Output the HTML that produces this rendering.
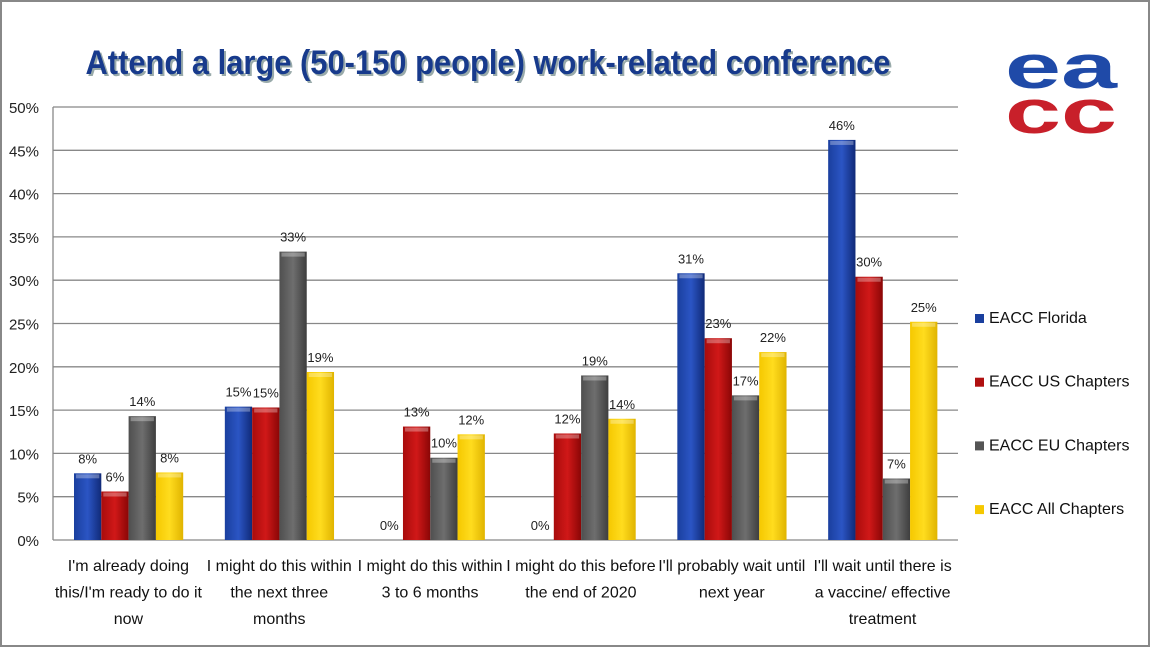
<!DOCTYPE html>
<html><head><meta charset="utf-8"><style>
body{margin:0;background:#fff}
svg{display:block;font-family:"Liberation Sans",sans-serif}
</style></head><body>
<svg id="c" width="1152" height="648">
<defs>
<linearGradient id="gb" x1="0" x2="1"><stop offset="0" stop-color="#1a3f9e"/><stop offset="0.5" stop-color="#2b55c4"/><stop offset="1" stop-color="#102a78"/></linearGradient>
<linearGradient id="gr" x1="0" x2="1"><stop offset="0" stop-color="#a80c0c"/><stop offset="0.5" stop-color="#d01818"/><stop offset="1" stop-color="#8a0606"/></linearGradient>
<linearGradient id="gg" x1="0" x2="1"><stop offset="0" stop-color="#4f4f4f"/><stop offset="0.5" stop-color="#6e6e6e"/><stop offset="1" stop-color="#3e3e3e"/></linearGradient>
<linearGradient id="gy" x1="0" x2="1"><stop offset="0" stop-color="#f5c800"/><stop offset="0.5" stop-color="#ffdc1e"/><stop offset="1" stop-color="#e0b400"/></linearGradient>
</defs>
<rect x="1" y="1" width="1148" height="645" fill="#fff" stroke="#888" stroke-width="2"/>
<text x="488" y="74" text-anchor="middle" font-size="34" font-weight="bold" fill="#9aa" textLength="805" lengthAdjust="spacingAndGlyphs" transform="translate(2,2)">Attend a large (50-150 people) work-related conference</text>
<text x="488" y="74" text-anchor="middle" font-size="34" font-weight="bold" fill="#173a8c" textLength="805" lengthAdjust="spacingAndGlyphs">Attend a large (50-150 people) work-related conference</text>
<g>
<text x="1005" y="88" font-size="62" font-weight="bold" fill="#1f4aa8" textLength="112" lengthAdjust="spacingAndGlyphs">ea</text>
<text x="1005" y="133" font-size="62" font-weight="bold" fill="#c8202a" textLength="112" lengthAdjust="spacingAndGlyphs">cc</text>
</g>
<g id="grid"></g><g id="bars"></g><g id="labels"></g><g id="legend"></g>
</svg>
<script>
const categories=[["I'm already doing","this/I'm ready to do it","now"],["I might do this within","the next three","months"],["I might do this within","3 to 6 months"],["I might do this before","the end of 2020"],["I'll probably wait until","next year"],["I'll wait until there is","a vaccine/ effective","treatment"]];
const seriesNames=["EACC Florida","EACC US Chapters","EACC EU Chapters","EACC All Chapters"];
const florida=[7.7,15.4,0,0,30.8,46.2];
const usChapters=[5.6,15.3,13.1,12.3,23.3,30.4];
const euChapters=[14.3,33.3,9.5,19.0,16.7,7.1];
const allChapters=[7.8,19.4,12.2,14.0,21.7,25.2];
const yTicks=[0,5,10,15,20,25,30,35,40,45,50];
const NS="http://www.w3.org/2000/svg";
const X0=53,X1=958,Y0=540,Y1=107;
const y=v=>Y0-(v/50)*(Y0-Y1);
const gw=(X1-X0)/categories.length;
function mk(t,a,p){const e=document.createElementNS(NS,t);for(const k in a)e.setAttribute(k,a[k]);p.appendChild(e);return e;}
const grid=document.getElementById('grid');
yTicks.forEach(t=>{
 const l=mk('line',{x1:X0,x2:X1,y1:y(t),y2:y(t),stroke:'#888','stroke-width':1.3},grid);
 
 
 const tx=mk('text',{x:39,y:y(t)+6,'text-anchor':'end','font-size':15,fill:'#222'},grid);
 tx.textContent=t+'%';
 
 
});
mk('line',{x1:X0,x2:X0,y1:Y1,y2:Y0,stroke:'#888','stroke-width':1.3},grid);
const series=[florida,usChapters,euChapters,allChapters];
const fills=['url(#gb)','url(#gr)','url(#gg)','url(#gy)'];
const solid=['#1a3f9e','#b01010','#555','#f5c800'];
const bars=document.getElementById('bars');
const bw=27.3;
series.forEach((s,si)=>s.forEach((v,ci)=>{
 const bx=X0+ci*gw+21+si*bw;
 const r=mk('rect',{x:bx,y:y(v),width:bw,height:Y0-y(v),fill:fills[si]},bars);
 
 
 if(v>0){mk('rect',{x:bx+2,y:y(v)+1,width:bw-4,height:4,fill:'#fff',opacity:0.3},bars);}
 const t=mk('text',{x:bx+bw/2,y:y(v)-10,'text-anchor':'middle','font-size':13,fill:'#222'},bars);
 t.textContent=Math.round(v)+'%';
 
 
}));
const lab=document.getElementById('labels');
categories.forEach((c,ci)=>{
 c.forEach((ln,li)=>{
  const t=mk('text',{x:X0+ci*gw+gw/2,y:571+li*26.5,'text-anchor':'middle','font-size':16,fill:'#111'},lab);
  t.textContent=ln;
  
  
 });
});
const lg=document.getElementById('legend');
seriesNames.forEach((n,i)=>{
 const yy=320+i*63.7;
 mk('rect',{x:975,y:yy-6,width:9,height:9,fill:solid[i]},lg);
 const t=mk('text',{x:989,y:yy+3,'font-size':16,fill:'#111'},lg);
 t.textContent=n;
 
 
});
</script>
</body></html>
